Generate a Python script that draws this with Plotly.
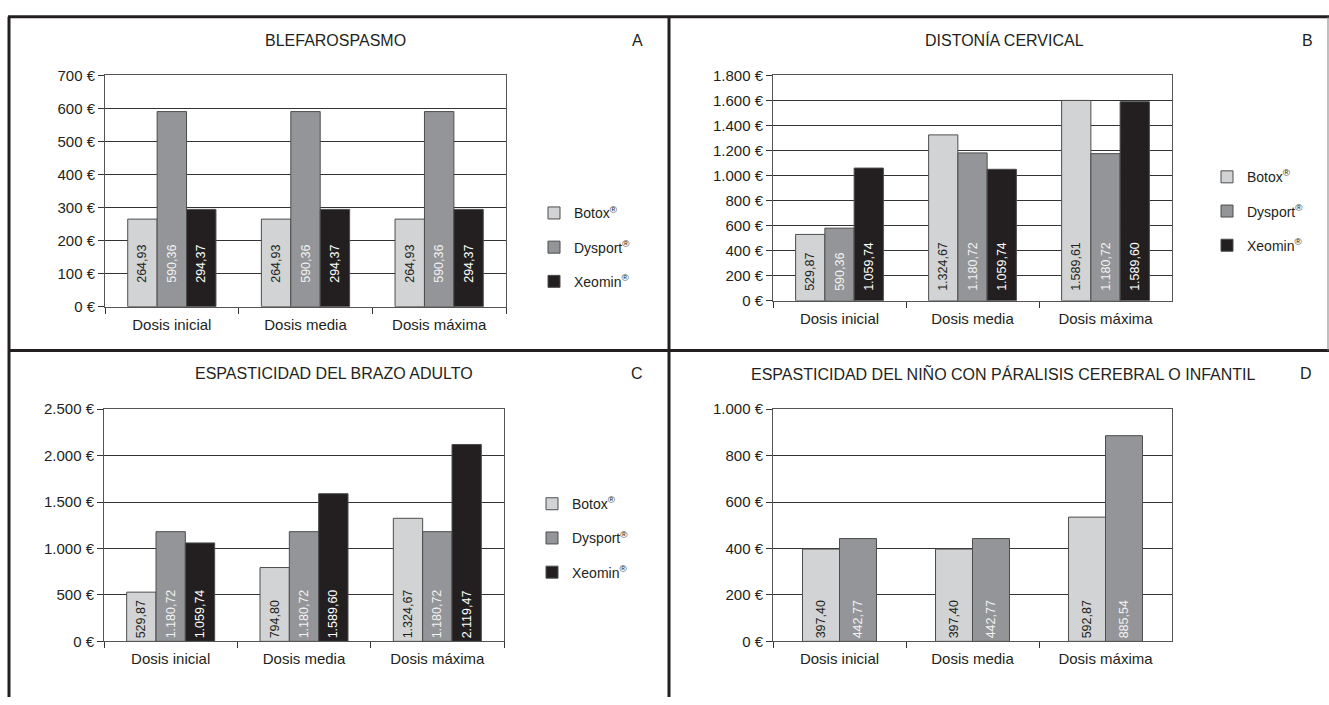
import plotly.graph_objects as go

W, H = 1329, 705

# ---------------- data ----------------
categories = ["Dosis inicial", "Dosis media", "Dosis máxima"]

# A - Blefarospasmo
a_botox = [264.93, 264.93, 264.93]
a_dysport = [590.36, 590.36, 590.36]
a_xeomin = [294.37, 294.37, 294.37]
a_botox_lbl = ["264,93", "264,93", "264,93"]
a_dysport_lbl = ["590,36", "590,36", "590,36"]
a_xeomin_lbl = ["294,37", "294,37", "294,37"]

# B - Distonía cervical (bar heights as drawn)
b_botox = [529.87, 1324.67, 1600.00]
b_dysport = [580.00, 1180.72, 1175.00]
b_xeomin = [1059.74, 1050.00, 1589.60]
b_botox_lbl = ["529,87", "1.324,67", "1.589,61"]
b_dysport_lbl = ["590,36", "1.180,72", "1.180,72"]
b_xeomin_lbl = ["1.059,74", "1.059,74", "1.589,60"]

# C - Espasticidad del brazo adulto
c_botox = [529.87, 794.80, 1324.67]
c_dysport = [1180.72, 1180.72, 1180.72]
c_xeomin = [1059.74, 1589.60, 2119.47]
c_botox_lbl = ["529,87", "794,80", "1.324,67"]
c_dysport_lbl = ["1.180,72", "1.180,72", "1.180,72"]
c_xeomin_lbl = ["1.059,74", "1.589,60", "2.119,47"]

# D - Espasticidad del niño (bar heights as drawn)
d_botox = [397.40, 397.40, 535.00]
d_dysport = [442.77, 442.77, 885.54]
d_botox_lbl = ["397,40", "397,40", "592,87"]
d_dysport_lbl = ["442,77", "442,77", "885,54"]

series_names = ["Botox<sup>®</sup>", "Dysport<sup>®</sup>", "Xeomin<sup>®</sup>"]
titles = ["BLEFAROSPASMO", "DISTONÍA CERVICAL", "ESPASTICIDAD DEL BRAZO ADULTO",
          "ESPASTICIDAD DEL NIÑO CON PÁRALISIS CEREBRAL O INFANTIL"]
letters = ["A", "B", "C", "D"]
y_ranges = [(0, 700, 100), (0, 1800, 200), (0, 2500, 500), (0, 1000, 200)]

# ---------------- style ----------------
FONT = "Liberation Sans, Arial, sans-serif"
C_BOTOX = "#d1d3d4"
C_DYSPORT = "#939598"
C_XEOMIN = "#231f20"
TXT_COLORS = ["#231f20", "#f2f2f2", "#ffffff"]
BAR_LINE = dict(color="#4d4d4d", width=1)


def px(x):
    return x / W


def py(y):
    return 1 - y / H


# plot areas in pixels: (left, right, top, bottom)
areas = [(105, 506, 68, 305), (773, 1172, 68, 299),
         (104, 504, 410, 648), (773, 1172, 410, 648)]
legend_pos = [(534, 193), (1207, 156), (532, 491), (1202, 520)]
title_pos = [(335, 32), (1004, 32), (334, 373), (1003, 373)]
letter_pos = [(637, 32), (1307, 32), (637, 373), (1306, 373)]
pads = ["\u00a0" * 6, "\u00a0" * 2, "", ""]

fig = go.Figure()

panel_data = [
    ([a_botox, a_dysport, a_xeomin], [a_botox_lbl, a_dysport_lbl, a_xeomin_lbl]),
    ([b_botox, b_dysport, b_xeomin], [b_botox_lbl, b_dysport_lbl, b_xeomin_lbl]),
    ([c_botox, c_dysport, c_xeomin], [c_botox_lbl, c_dysport_lbl, c_xeomin_lbl]),
    ([d_botox, d_dysport], [d_botox_lbl, d_dysport_lbl]),
]
colors = [C_BOTOX, C_DYSPORT, C_XEOMIN]

for i, (vals, lbls) in enumerate(panel_data):
    sfx = "" if i == 0 else str(i + 1)
    xa, ya = "x" + sfx, "y" + sfx
    leg = "legend" + sfx
    for j, (v, l) in enumerate(zip(vals, lbls)):
        kw = {}
        if i == 3:
            kw = dict(width=0.278, offset=-0.278 if j == 0 else 0.0, showlegend=False)
        fig.add_trace(go.Bar(
            x=categories, y=v, name=series_names[j],
            xaxis=xa, yaxis=ya, legend=leg, legendgroup=f"p{i}s{j}",
            marker=dict(color=colors[j], line=BAR_LINE),
            text=l, texttemplate=pads[i] + "%{text}",
            textposition="inside", insidetextanchor="start", textangle=-90,
            textfont=dict(family=FONT, size=12.5, color=TXT_COLORS[j]),
            constraintext="none", cliponaxis=False, hoverinfo="skip", **kw))
    if i == 3:
        # legend of panel D as printed (Botox grey, Dysport black)
        for j, col in enumerate([C_DYSPORT, C_XEOMIN]):
            fig.add_trace(go.Scatter(
                x=[], y=[], mode="markers", name=series_names[j],
                xaxis=xa, yaxis=ya, legend=leg, legendgroup=f"d{j}",
                marker=dict(symbol="square", size=11, color=col,
                            line=dict(color="#4d4d4d", width=1))))

layout = dict(
    width=W, height=H, margin=dict(l=0, r=0, t=0, b=0),
    paper_bgcolor="white", plot_bgcolor="white",
    barmode="group", bargap=0.34, bargroupgap=0,
    separators=",.",
    font=dict(family=FONT, size=15, color="#231f20"),
    showlegend=True,
)

annotations = []
for i in range(4):
    sfx = "" if i == 0 else str(i + 1)
    l, r, t, b = areas[i]
    lo, hi, dt = y_ranges[i]
    layout["xaxis" + sfx] = dict(
        domain=[px(l), px(r)], anchor="y" + sfx, type="category",
        categoryorder="array", categoryarray=categories,
        showline=True, linecolor="#555555", linewidth=1, mirror=True,
        ticks="outside", tickson="boundaries", ticklen=6, tickcolor="#333333",
        ticklabelstandoff=4,
        tickfont=dict(family=FONT, size=15, color="#231f20"),
        showgrid=False, fixedrange=True)
    layout["yaxis" + sfx] = dict(
        domain=[py(b), py(t)], anchor="x" + sfx,
        range=[lo, hi], dtick=dt, tick0=0, tickformat=",d", ticksuffix=" €",
        showline=True, linecolor="#555555", linewidth=1, mirror=True,
        ticks="outside", ticklen=6, tickcolor="#333333",
        tickfont=dict(family=FONT, size=15, color="#231f20"),
        showgrid=True, gridcolor="#333333", gridwidth=1,
        zeroline=False, fixedrange=True)
    lx, ly = legend_pos[i]
    layout["legend" + sfx] = dict(
        x=px(lx), y=py(ly), xanchor="left", yanchor="top",
        bgcolor="rgba(0,0,0,0)", tracegroupgap=13,
        font=dict(family=FONT, size=14, color="#231f20"),
        itemclick=False, itemdoubleclick=False)
    tx, ty = title_pos[i]
    annotations.append(dict(text=titles[i], x=px(tx), y=py(ty), xref="paper", yref="paper",
                            xanchor="center", yanchor="middle", showarrow=False,
                            font=dict(family=FONT, size=16, color="#231f20")))
    gx, gy = letter_pos[i]
    annotations.append(dict(text=letters[i], x=px(gx), y=py(gy), xref="paper", yref="paper",
                            xanchor="center", yanchor="middle", showarrow=False,
                            font=dict(family=FONT, size=16, color="#231f20")))

layout["annotations"] = annotations

BORDER = dict(color="#231f20", width=3)
layout["shapes"] = [
    dict(type="line", xref="paper", yref="paper", x0=px(8), x1=1, y0=py(8), y1=py(8), line=BORDER),
    dict(type="line", xref="paper", yref="paper", x0=px(9), x1=px(9), y0=py(8), y1=0, line=BORDER),
    dict(type="line", xref="paper", yref="paper", x0=px(669), x1=px(669), y0=py(8), y1=0, line=BORDER),
    dict(type="line", xref="paper", yref="paper", x0=px(8), x1=1, y0=py(350), y1=py(350), line=BORDER),
    dict(type="line", xref="paper", yref="paper", x0=px(1328), x1=px(1328), y0=py(8), y1=py(350),
         line=dict(color="#808080", width=1)),
]

fig.update_layout(**layout)
PAGE_CSS = ("var s='margin:0;padding:0;overflow:hidden;width:1329px;height:705px;';"
            "document.documentElement.style.cssText=s;document.body.style.cssText=s;")
fig.write_html("out.html", config=dict(displayModeBar=False), post_script=PAGE_CSS)
